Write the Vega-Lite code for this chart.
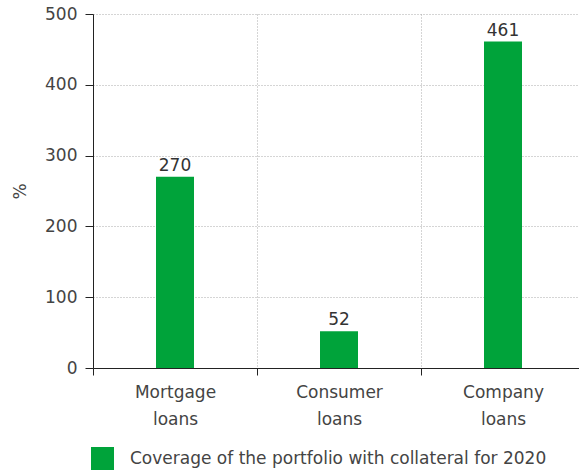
{
  "$schema": "https://vega.github.io/schema/vega-lite/v6.json",
  "width": 492,
  "height": 354,
  "autosize": "none",
  "padding": {"left": 93, "top": 14, "right": 0, "bottom": 102},
  "background": "white",
  "config": {
    "view": {"stroke": null},
    "font": "DejaVu Sans"
  },
  "data": {
    "values": [
      {"category": "Mortgage loans", "value": 270, "series": "Coverage of the portfolio with collateral for 2020"},
      {"category": "Consumer loans", "value": 52, "series": "Coverage of the portfolio with collateral for 2020"},
      {"category": "Company loans", "value": 461, "series": "Coverage of the portfolio with collateral for 2020"}
    ]
  },
  "encoding": {
    "x": {
      "field": "category",
      "type": "nominal",
      "sort": null,
      "scale": {"paddingInner": 0, "paddingOuter": 0},
      "axis": {
        "title": null,
        "labelAngle": 0,
        "labelExpr": "split(datum.label, ' ')",
        "labelFontSize": 17,
        "labelColor": "#444",
        "labelLineHeight": 27,
        "labelPadding": 9,
        "bandPosition": 0,
        "tickBand": "extent",
        "tickSize": 7,
        "tickColor": "#222",
        "domainColor": "#222",
        "grid": true,
        "gridDash": [1, 2],
        "gridColor": "#aaa"
      }
    },
    "y": {
      "field": "value",
      "type": "quantitative",
      "scale": {"domain": [0, 500]},
      "axis": {
        "title": "%",
        "titleFontSize": 17,
        "titleFontWeight": "normal",
        "titleColor": "#444",
        "titlePadding": 15,
        "values": [0, 100, 200, 300, 400, 500],
        "labelFontSize": 17,
        "labelColor": "#444",
        "labelPadding": 8,
        "tickSize": 8,
        "tickColor": "#222",
        "domainColor": "#222",
        "gridDash": [1, 2],
        "gridColor": "#aaa"
      }
    }
  },
  "layer": [
    {
      "mark": {"type": "bar", "size": 38},
      "encoding": {
        "color": {
          "field": "series",
          "type": "nominal",
          "scale": {"range": ["#00a33a"]},
          "legend": {
            "title": null,
            "orient": "none",
            "legendX": -2,
            "legendY": 433,
            "symbolType": "square",
            "symbolSize": 529,
            "symbolStrokeWidth": 0,
            "symbolOpacity": 1,
            "labelFontSize": 17,
            "labelColor": "#444",
            "labelOffset": 16,
            "labelLimit": 0
          }
        }
      }
    },
    {
      "mark": {"type": "text", "baseline": "bottom", "dy": -2, "fontSize": 17, "color": "#333"},
      "encoding": {"text": {"field": "value", "type": "quantitative"}}
    }
  ]
}
